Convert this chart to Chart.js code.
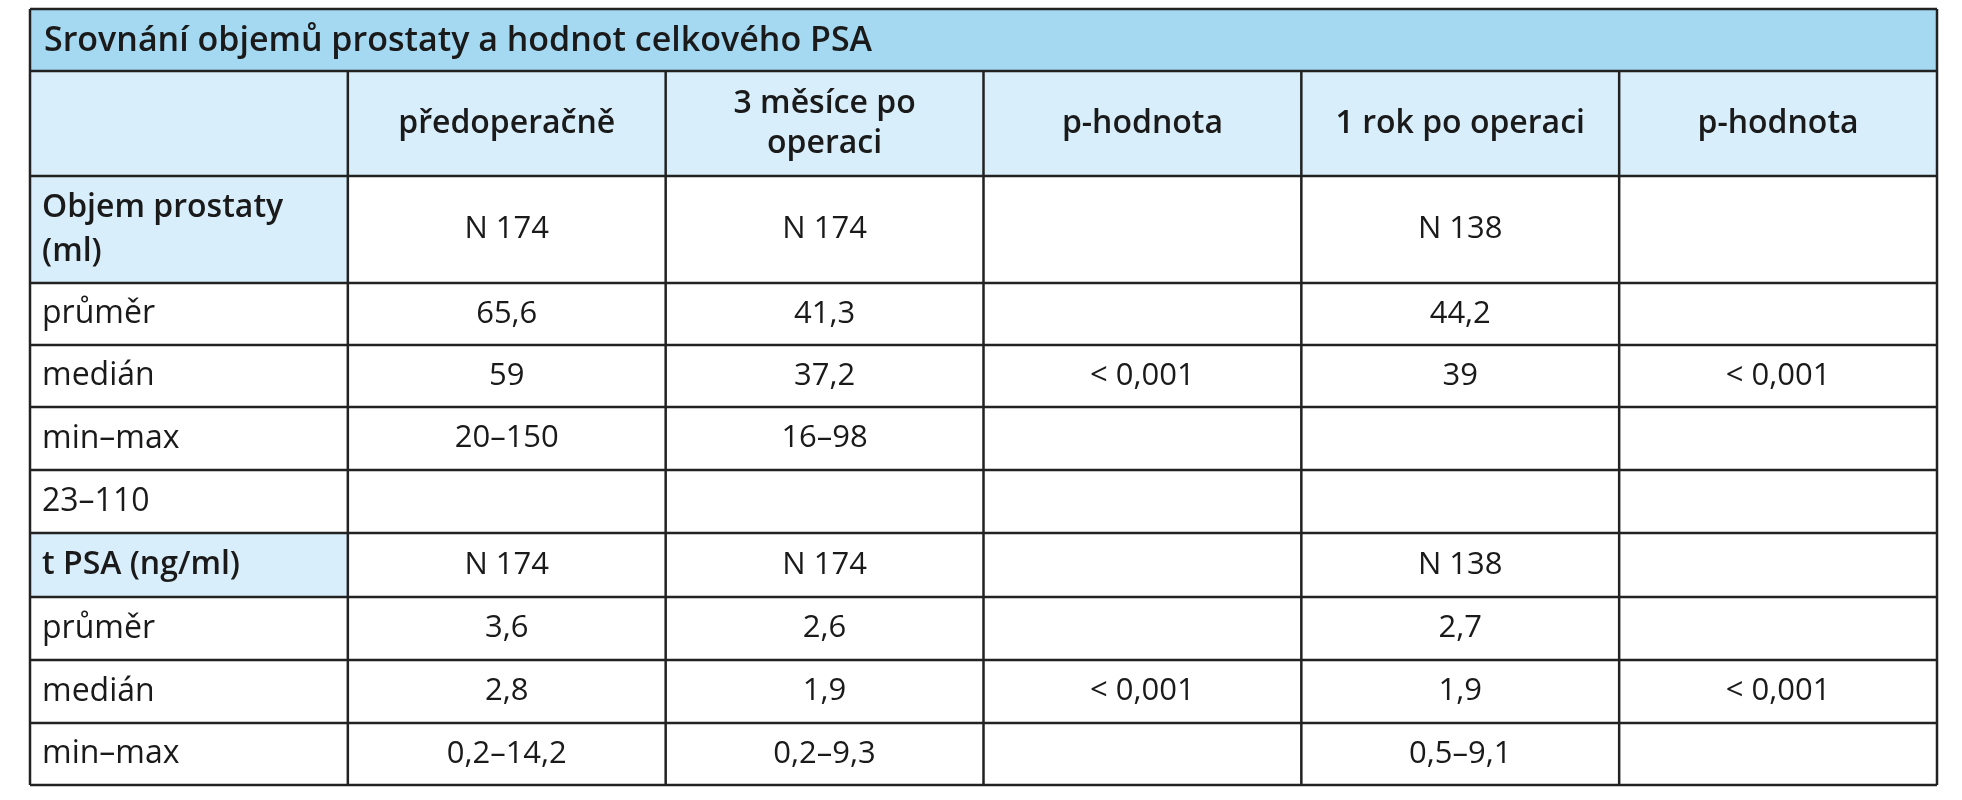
<!DOCTYPE html>
<html><head><meta charset="utf-8">
<script src="https://cdn.jsdelivr.net/npm/chart.js@4.4.0/dist/chart.umd.min.js"></script>
<style>html,body{margin:0;padding:0;background:#fff}</style>
</head><body>
<canvas id="c" width="1962" height="800"></canvas>
<script>
const title = "Srovnání objemů prostaty a hodnot celkového PSA";
const columns = ["", "předoperačně", "3 měsíce po\noperaci", "p-hodnota", "1 rok po operaci", "p-hodnota"];
const rowLabels = ["Objem prostaty\n(ml)", "průměr", "medián", "min–max", "23–110", "t PSA (ng/ml)", "průměr", "medián", "min–max"];
const boldRows = [0, 5];
const preop = ["N 174", "65,6", "59", "20–150", "", "N 174", "3,6", "2,8", "0,2–14,2"];
const m3 = ["N 174", "41,3", "37,2", "16–98", "", "N 174", "2,6", "1,9", "0,2–9,3"];
const p1 = ["", "", "< 0,001", "", "", "", "", "< 0,001", ""];
const y1 = ["N 138", "44,2", "39", "", "", "N 138", "2,7", "1,9", "0,5–9,1"];
const p2 = ["", "", "< 0,001", "", "", "", "", "< 0,001", ""];

const tablePlugin = {
  id: 'table',
  afterDraw(chart) {
    const ctx = chart.ctx;
    const L = 30, R = 1937;
    const colW = (R - L) / 6;
    const rowsY = [176, 283, 345, 407, 470, 533, 597, 660, 723, 785];
    const titleTop = 9, headTop = 71;
    const font = '"Open Sans", sans-serif';
    ctx.save();
    ctx.fillStyle = '#a5d9f2';
    ctx.fillRect(L, titleTop, R - L, headTop - titleTop);
    ctx.fillStyle = '#d8eefa';
    ctx.fillRect(L, headTop, R - L, rowsY[0] - headTop);
    boldRows.forEach(r => ctx.fillRect(L, rowsY[r], colW, rowsY[r + 1] - rowsY[r]));
    ctx.strokeStyle = '#222'; ctx.lineWidth = 2.5;
    ctx.beginPath();
    [titleTop, headTop, ...rowsY].forEach(y => { ctx.moveTo(L, y); ctx.lineTo(R, y); });
    ctx.moveTo(L, titleTop); ctx.lineTo(L, rowsY[rowsY.length - 1]);
    ctx.moveTo(R, titleTop); ctx.lineTo(R, rowsY[rowsY.length - 1]);
    for (let i = 1; i < 6; i++) { const x = L + colW * i; ctx.moveTo(x, headTop); ctx.lineTo(x, rowsY[rowsY.length - 1]); }
    ctx.stroke();
    ctx.fillStyle = '#1a1a1a';
    ctx.textBaseline = 'middle';
    const multi = (txt, x, y, lh) => { const ls = txt.split('\n'); ls.forEach((l, i) => ctx.fillText(l, x, y + (i - (ls.length - 1) / 2) * lh)); };
    ctx.font = '600 34px ' + font; ctx.textAlign = 'left';
    ctx.fillText(title, L + 14, (titleTop + headTop) / 2 + 1);
    ctx.textAlign = 'center';
    ctx.font = '600 32px ' + font;
    columns.forEach((c, i) => { if (c) multi(c, L + colW * (i + 0.5), (headTop + rowsY[0]) / 2, 40); });
    const cols = [preop, m3, p1, y1, p2];
    rowLabels.forEach((lab, r) => {
      const yc = (rowsY[r] + rowsY[r + 1]) / 2;
      ctx.textAlign = 'left';
      ctx.font = (boldRows.includes(r) ? '600 ' : '400 ') + '32px ' + font;
      multi(lab, L + 12, yc, 44);
      ctx.font = '400 31px ' + font; ctx.textAlign = 'center';
      cols.forEach((arr, ci) => { if (arr[r]) ctx.fillText(arr[r], L + colW * (ci + 1.5), yc); });
    });
    ctx.restore();
  }
};

new Chart(document.getElementById('c'), {
  type: 'scatter',
  data: { datasets: [{ data: [] }] },
  options: {
    responsive: false, animation: false,
    plugins: { legend: { display: false }, tooltip: { enabled: false } },
    scales: { x: { display: false }, y: { display: false } }
  },
  plugins: [tablePlugin]
});
</script>
</body></html>
